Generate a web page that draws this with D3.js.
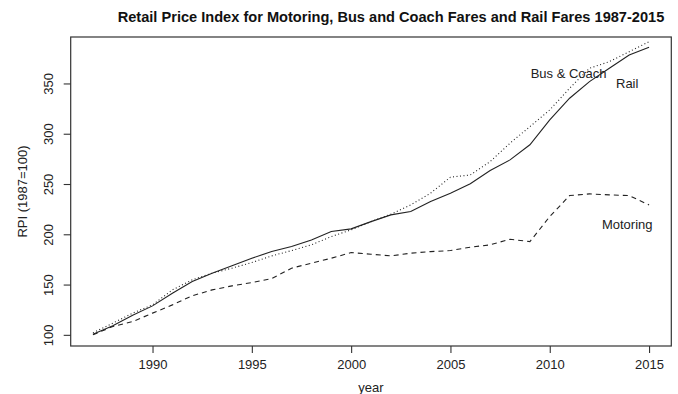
<!DOCTYPE html>
<html>
<head>
<meta charset="utf-8">
<script src="https://cdn.jsdelivr.net/npm/d3@7"></script>
<style>
  html, body { margin: 0; padding: 0; background: #fff; }
  svg { display: block; font-family: "Liberation Sans", Arial, sans-serif; }
</style>
</head>
<body>
<svg id="chart" width="678" height="394"></svg>
<script>
const years = [1987,1988,1989,1990,1991,1992,1993,1994,1995,1996,1997,1998,1999,2000,2001,2002,2003,2004,2005,2006,2007,2008,2009,2010,2011,2012,2013,2014,2015];
const rail = [100.5,109,119.5,128.8,141.4,153,161.3,168.6,176.2,182.8,187.8,194.4,202.7,205.4,212.6,219.3,222.6,232.5,240.9,250.3,263.5,274,289,313.7,335.3,351.8,365.1,378.3,386];
const busCoach = [102,111.6,121.6,129.8,144.7,154.7,161.3,166.3,171.9,178.5,183.8,189.5,197.7,204.4,212.6,220,229.2,240.9,256.8,259,272.3,290.6,307.1,323.7,345.2,365.1,371.7,381.6,391.5];
const motoring = [100,108.3,113.2,121.6,129.8,138.8,144.7,148.7,152,156,166.3,171.3,176.2,181.8,180.2,178.5,181.2,182.8,183.8,187.2,189.5,195.1,192.7,217.6,238.5,240.2,239.2,238.5,229.2];
const xTicks = [1990,1995,2000,2005,2010,2015];
const yTicks = [100,150,200,250,300,350];
const labels = [
  {text: "Bus & Coach", year: 2010.95, value: 360},
  {text: "Rail", year: 2013.9, value: 350.3},
  {text: "Motoring", year: 2013.9, value: 210}
];

const svg = d3.select("#chart");
const pLeft = 70.7, pRight = 671.3, pTop = 37, pBottom = 346;

const x = d3.scaleLinear().domain([1985.88, 2016.12]).range([pLeft, pRight]);
const y = d3.scaleLinear().domain([88.9, 396.2]).range([pBottom, pTop]);

const ink = "#222";
const fs = 13;

// Title
svg.append("text")
  .attr("x", 391).attr("y", 22)
  .attr("text-anchor", "middle")
  .attr("font-size", 14.6).attr("font-weight", "bold")
  .attr("fill", "#111")
  .text("Retail Price Index for Motoring, Bus and Coach Fares and Rail Fares 1987-2015");

// Plot box
svg.append("rect")
  .attr("x", pLeft).attr("y", pTop)
  .attr("width", pRight - pLeft).attr("height", pBottom - pTop)
  .attr("fill", "none").attr("stroke", "#333").attr("stroke-width", 1.2);

// X axis
const xAxis = d3.axisBottom(x).tickValues(xTicks).tickFormat(d3.format("d")).tickSize(7).tickPadding(7);
const gx = svg.append("g").attr("transform", `translate(0,${pBottom})`).call(xAxis);
gx.select(".domain").remove();
gx.selectAll("line").attr("stroke", "#333").attr("stroke-width", 1.1);
gx.selectAll("text").attr("font-size", fs).attr("fill", "#222").attr("font-family", "Liberation Sans, Arial, sans-serif");

// Y axis
const yAxis = d3.axisLeft(y).tickValues(yTicks).tickFormat(d3.format("d")).tickSize(7).tickPadding(0);
const gy = svg.append("g").attr("transform", `translate(${pLeft},0)`).call(yAxis);
gy.select(".domain").remove();
gy.selectAll("line").attr("stroke", "#333").attr("stroke-width", 1.1);
gy.selectAll("text")
  .attr("font-size", fs).attr("fill", "#222").attr("font-family", "Liberation Sans, Arial, sans-serif")
  .attr("x", null).attr("dy", null)
  .attr("text-anchor", "middle")
  .attr("transform", "translate(-18,0) rotate(-90)");

// Axis titles
svg.append("text")
  .attr("x", (pLeft + pRight) / 2).attr("y", 392)
  .attr("text-anchor", "middle").attr("font-size", fs).attr("fill", "#222")
  .text("year");
svg.append("text")
  .attr("transform", `translate(27,${(pTop + pBottom) / 2}) rotate(-90)`)
  .attr("text-anchor", "middle").attr("font-size", fs).attr("fill", "#222")
  .text("RPI (1987=100)");

// Lines
const line = d3.line().x((d, i) => x(years[i])).y(d => y(d));
const series = [
  {data: rail, dash: null},
  {data: busCoach, dash: "1,2.5"},
  {data: motoring, dash: "5,4"}
];
svg.selectAll("path.series").data(series).enter().append("path")
  .attr("class", "series")
  .attr("d", d => line(d.data))
  .attr("fill", "none")
  .attr("stroke", ink)
  .attr("stroke-width", 1.1)
  .attr("stroke-dasharray", d => d.dash);

// Labels
svg.selectAll("text.lab").data(labels).enter().append("text")
  .attr("class", "lab")
  .attr("x", d => x(d.year)).attr("y", d => y(d.value))
  .attr("text-anchor", "middle").attr("dominant-baseline", "central")
  .attr("font-size", fs).attr("fill", "#222")
  .text(d => d.text);
</script>
</body>
</html>
